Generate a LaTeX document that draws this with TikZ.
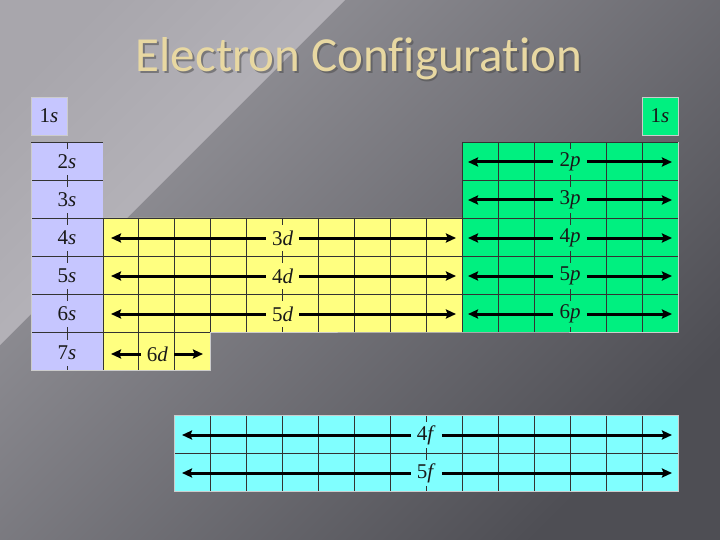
\documentclass[tikz,border=0pt]{standalone}
\usepackage{fontspec}
\setmainfont{Liberation Serif}
\newfontfamily\titlefont[Ligatures=NoCommon]{Carlito}
\usetikzlibrary{arrows.meta}
\definecolor{slav}{HTML}{C6C6FF}
\definecolor{dyel}{HTML}{FFFF80}
\definecolor{pgrn}{HTML}{00F080}
\definecolor{fcyn}{HTML}{80FFFF}
\definecolor{bgA}{HTML}{98979D}
\definecolor{bgB}{HTML}{4E4E54}
\definecolor{bgC}{HTML}{A8A6AC}
\definecolor{bgD}{HTML}{BFBDC3}
\definecolor{ttl}{HTML}{E8D8A2}
\newcommand\orb[2]{#1\textit{#2}}
\tikzset{
  gridln/.style={line width=0.7pt, draw=black!80},
  edgeln/.style={line width=0.8pt, draw=white!80!black},
  lab/.style={font=\fontsize{21}{21}\selectfont, text=black!90, inner xsep=6pt, inner ysep=0pt, minimum height=26pt, fill=#1},
  arr/.style={line width=3pt, -{Stealth[length=10pt,width=9pt,inset=1.5pt]}}
}
\begin{document}
\begin{tikzpicture}[x=1pt,y=-1pt]
\useasboundingbox (0,0) rectangle (720,540);
% background (unflipped scope so shading angles read normally)
\begin{scope}[y=1pt]
\shade[top color=bgA, bottom color=bgB, shading angle=45] (0,0) rectangle (720,-540);
\shade[top color=bgC, bottom color=bgD, shading angle=45] (0,0) -- (345,0) -- (0,-345) -- cycle;
\end{scope}
% title
\node[font=\titlefont\fontsize{49}{49}\selectfont, text=black!70, opacity=0.55] at (361,61) {Electron Configuration};
\node[font=\titlefont\fontsize{49}{49}\selectfont, text=ttl] (title) at (359,59) {Electron Configuration};
% ---------- fills ----------
\fill[slav] (31,97) rectangle (66.94,135);
\fill[slav] (31,142) rectangle (102.88,370);
\fill[dyel] (102.88,218) -- (462.28,218) -- (462.28,332) -- (210.7,332) -- (210.7,370) -- (102.88,370) -- cycle;
\fill[pgrn] (462.28,142) rectangle (677.92,332);
\fill[pgrn] (641.98,97) rectangle (677.92,135);
\fill[fcyn] (174.76,415) rectangle (677.92,491);
% ---------- grid lines ----------
% s block
\foreach \y in {180,218,256,294,332} \draw[gridln] (31,\y) -- (102.88,\y);
\draw[gridln] (66.94,142) -- (66.94,370);
% d block
\foreach \y in {256,294} \draw[gridln] (102.88,\y) -- (462.28,\y);
\draw[gridln] (102.88,332) -- (210.7,332);
\foreach \x in {138.82,174.76} \draw[gridln] (\x,218) -- (\x,370);
\foreach \x in {210.7,246.64,282.58,318.52,354.46,390.4,426.34} \draw[gridln] (\x,218) -- (\x,332);
\draw[gridln] (102.88,218) -- (102.88,370);
% p block
\foreach \y in {180,218,256,294} \draw[gridln] (462.28,\y) -- (677.92,\y);
\foreach \x in {462.28,498.22,534.16,570.1,606.04,641.98} \draw[gridln] (\x,142) -- (\x,332);
% f block
\draw[gridln] (174.76,453) -- (677.92,453);
\foreach \x in {210.7,246.64,282.58,318.52,354.46,390.4,426.34,462.28,498.22,534.16,570.1,606.04,641.98} \draw[gridln] (\x,415) -- (\x,491);
% ---------- outlines ----------
\draw[edgeln] (31,97) rectangle (66.94,135);
\draw[edgeln] (641.98,97) rectangle (677.92,135);
\draw[edgeln] (31,142) -- (31,370) -- (210.7,370) -- (210.7,332) -- (462.28,332) -- (677.92,332) -- (677.92,142);
\draw[edgeln] (174.76,415) rectangle (677.92,491);
\draw[gridln] (31,142) -- (102.88,142) (102.88,218) -- (462.28,218) (462.28,142) -- (677.92,142);
% ---------- s labels ----------
\node[lab=slav] (s1) at (48.97,116) {\orb{1}{s}};
\node[lab=pgrn] (s1r) at (659.95,116) {\orb{1}{s}};
\node[lab=slav] (s2) at (66.94,162) {\orb{2}{s}};
\node[lab=slav] (s3) at (66.94,200) {\orb{3}{s}};
\node[lab=slav] (s4) at (66.94,238) {\orb{4}{s}};
\node[lab=slav] (s5) at (66.94,276) {\orb{5}{s}};
\node[lab=slav] (s6) at (66.94,314) {\orb{6}{s}};
\node[lab=slav] (s7) at (66.94,353) {\orb{7}{s}};
% ---------- d labels and arrows ----------
\node[lab=dyel] (d3) at (282.58,238) {\orb{3}{d}};
\node[lab=dyel] (d4) at (282.58,276) {\orb{4}{d}};
\node[lab=dyel] (d5) at (282.58,314) {\orb{5}{d}};
\node[lab=dyel] (d6) at (157.5,354) {\orb{6}{d}};
\coordinate (d3L) at (111,238); \coordinate (d3R) at (456,238);
\coordinate (d4L) at (111,276); \coordinate (d4R) at (456,276);
\coordinate (d5L) at (111,314); \coordinate (d5R) at (456,314);
\coordinate (d6L) at (111,354); \coordinate (d6R) at (203,354);
\foreach \n in {3,4,5,6} {
  \draw[arr] (d\n.west) -- (d\n L);
  \draw[arr] (d\n.east) -- (d\n R);
}
% ---------- p labels and arrows ----------
\node[lab=pgrn] (p2) at (570.1,162) {\orb{2}{p}};
\node[lab=pgrn] (p3) at (570.1,200) {\orb{3}{p}};
\node[lab=pgrn] (p4) at (570.1,238) {\orb{4}{p}};
\node[lab=pgrn] (p5) at (570.1,276) {\orb{5}{p}};
\node[lab=pgrn] (p6) at (570.1,314) {\orb{6}{p}};
\coordinate (p2L) at (468,162); \coordinate (p2R) at (672,162);
\coordinate (p3L) at (468,200); \coordinate (p3R) at (672,200);
\coordinate (p4L) at (468,238); \coordinate (p4R) at (672,238);
\coordinate (p5L) at (468,276); \coordinate (p5R) at (672,276);
\coordinate (p6L) at (468,314); \coordinate (p6R) at (672,314);
\foreach \n in {2,3,4,5,6} {
  \draw[arr] (p\n.west) -- (p\n L);
  \draw[arr] (p\n.east) -- (p\n R);
}
% ---------- f labels and arrows ----------
\node[lab=fcyn] (f4) at (426.34,435) {\orb{4}{f}};
\node[lab=fcyn] (f5) at (426.34,473) {\orb{5}{f}};
\coordinate (f4L) at (182,435); \coordinate (f4R) at (672,435);
\coordinate (f5L) at (182,473); \coordinate (f5R) at (672,473);
\foreach \n in {4,5} {
  \draw[arr] (f\n.west) -- (f\n L);
  \draw[arr] (f\n.east) -- (f\n R);
}
\end{tikzpicture}
\end{document}
